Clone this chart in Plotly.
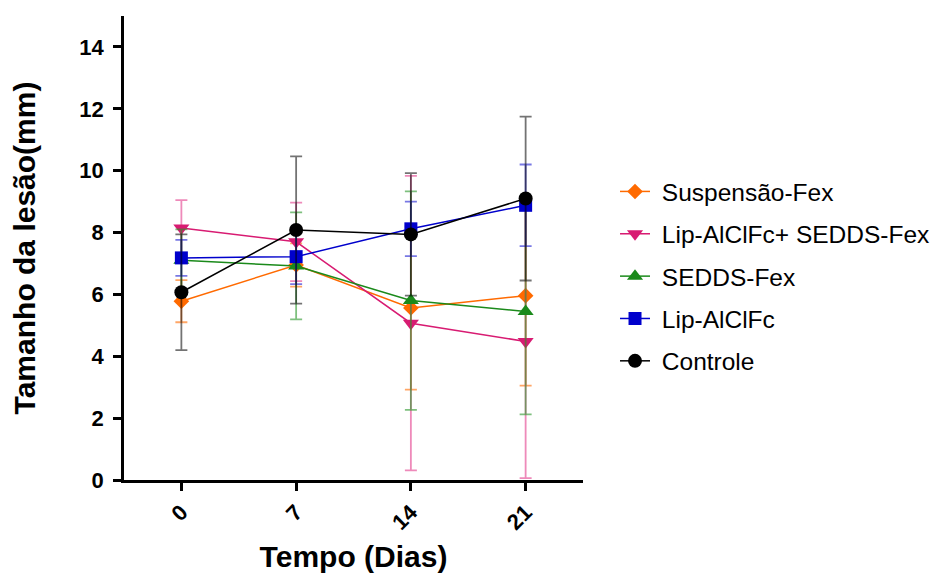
import plotly.graph_objects as go

days = [0, 7, 14, 21]
series_names = ["Suspensão-Fex", "Lip-AlClFc+ SEDDS-Fex", "SEDDS-Fex", "Lip-AlClFc", "Controle"]
susp = [5.78, 6.95, 5.56, 5.96]
susp_err = [0.68, 0.70, 2.64, 2.91]
lip_sedds = [8.15, 7.70, 5.07, 4.48]
lip_sedds_err = [0.90, 1.27, 4.76, 4.42]
sedds = [7.10, 6.92, 5.80, 5.45]
sedds_err = [1.00, 1.73, 3.53, 3.33]
lip = [7.18, 7.22, 8.12, 8.88]
lip_err = [0.58, 0.89, 0.88, 1.32]
controle = [6.07, 8.08, 7.94, 9.10]
controle_err = [1.87, 2.38, 1.98, 2.65]
y_ticks = [0, 2, 4, 6, 8, 10, 12, 14]

values = [susp, lip_sedds, sedds, lip, controle]
errors = [susp_err, lip_sedds_err, sedds_err, lip_err, controle_err]
colors = ["#FF6A00", "#D81B72", "#1B8A1B", "#0000CC", "#000000"]
err_colors = ["rgba(255,106,0,0.6)", "rgba(226,60,140,0.6)", "rgba(40,150,40,0.6)",
              "rgba(30,30,210,0.6)", "rgba(0,0,0,0.55)"]
symbols = ["diamond", "triangle-down", "triangle-up", "square", "circle"]
sizes = [12, 14, 14, 13, 14]

fig = go.Figure()
for i, name in enumerate(series_names):
    fig.add_trace(go.Scatter(
        x=days, y=values[i], name="\u00a0" + name, mode="lines+markers",
        legendgroup=f"g{i}",
        line=dict(color=colors[i], width=1.5),
        marker=dict(symbol=symbols[i], size=sizes[i], color=colors[i]),
        error_y=dict(type="data", array=errors[i], visible=True,
                     color=err_colors[i], thickness=1.8, width=6),
    ))

H = 565
fig.update_layout(
    width=933, height=H,
    margin=dict(l=116, r=358, t=8, b=H - 472),
    plot_bgcolor="white", paper_bgcolor="white",
    font=dict(family="Liberation Sans, Arial, sans-serif", color="black"),
    showlegend=True,
    legend=dict(xref="container", yref="container", x=0.6506, y=1 - 161 / H,
                xanchor="left", yanchor="top", font=dict(size=24.5),
                tracegroupgap=7.5, itemwidth=30, bgcolor="rgba(0,0,0,0)"),
)
fig.update_xaxes(
    range=[-3.5, 24.5], tickvals=days, ticktext=[str(d) for d in days],
    tickangle=-45, ticks="outside", ticklen=8, tickwidth=2.5, tickcolor="black",
    showline=True, linecolor="black", linewidth=2.5, showgrid=False, zeroline=False,
    tickfont=dict(size=22, weight="bold"), automargin=False,
    title=dict(text="Tempo (Dias)", font=dict(size=30, weight="bold"), standoff=14),
)
fig.update_yaxes(
    range=[0, 15], tickvals=y_ticks, ticks="outside", ticklen=8, tickwidth=2.5,
    tickcolor="black", showline=True, linecolor="black", linewidth=2.5,
    showgrid=False, zeroline=False, automargin=False, ticklabelstandoff=5,
    tickfont=dict(size=22, weight="bold"),
    title=dict(text="Tamanho da lesão(mm)", font=dict(size=30, weight="bold"), standoff=46),
)

fig.write_html("out.html")
